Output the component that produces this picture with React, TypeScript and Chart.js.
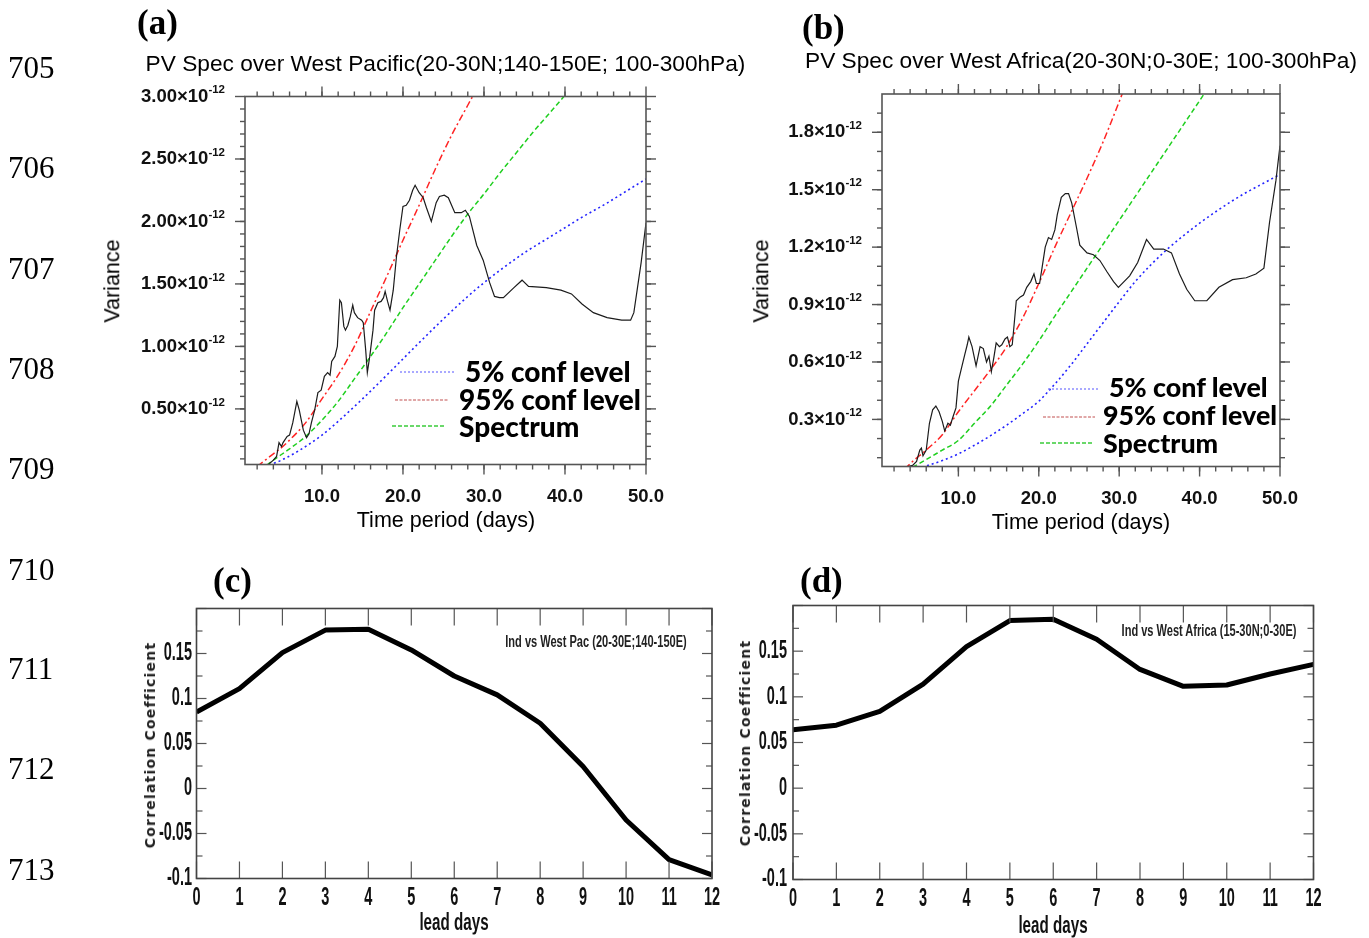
import React, { useEffect, useRef } from "react";
import { Chart, registerables } from "chart.js";

Chart.register(...registerables);

// ---------------- Panel (a): PV spectrum over West Pacific (units of 1e-12) ----------------
const specDaysA = [3.3, 4.0, 4.4, 4.7, 5.0, 5.2, 5.4, 5.7, 6.0, 6.4, 6.9, 7.2, 7.7, 8.1, 8.4, 8.7, 9.1, 9.5, 9.9, 10.3, 10.7, 11.0, 11.2, 11.6, 11.9, 12.2, 12.4, 12.7, 12.9, 13.2, 13.5, 13.8, 14.0, 14.4, 14.9, 15.1, 15.4, 15.6, 15.9, 16.3, 16.5, 16.9, 17.3, 17.6, 17.8, 18.1, 18.4, 18.8, 19.2, 19.6, 20.0, 20.4, 20.8, 21.2, 21.5, 22.0, 22.5, 22.9, 23.5, 24.1, 24.5, 25.1, 25.6, 26.4, 27.2, 27.7, 28.2, 29.1, 29.9, 30.7, 31.3, 31.9, 32.4, 33.7, 34.7, 35.5, 37.7, 39.5, 40.8, 42.1, 43.5, 45.2, 47.0, 48.1, 48.5, 49.4, 50.0];
const specA = [0.05, 0.09, 0.12, 0.23, 0.2, 0.23, 0.25, 0.28, 0.29, 0.39, 0.56, 0.49, 0.33, 0.27, 0.3, 0.39, 0.49, 0.63, 0.65, 0.76, 0.79, 0.77, 0.88, 0.92, 1.0, 1.37, 1.35, 1.16, 1.13, 1.17, 1.24, 1.33, 1.27, 1.23, 1.21, 1.19, 0.97, 0.79, 0.92, 1.13, 1.29, 1.35, 1.36, 1.39, 1.44, 1.36, 1.29, 1.45, 1.72, 1.93, 2.12, 2.13, 2.17, 2.25, 2.29, 2.23, 2.19, 2.11, 2.0, 2.15, 2.2, 2.21, 2.19, 2.07, 2.07, 2.09, 2.04, 1.81, 1.69, 1.51, 1.4, 1.39, 1.39, 1.47, 1.53, 1.48, 1.47, 1.45, 1.42, 1.34, 1.27, 1.23, 1.21, 1.21, 1.27, 1.67, 1.99];
const conf95DaysA = [2.0, 3, 4, 5, 6, 8, 10, 12, 14, 16, 18, 20, 22, 24, 26, 28, 30];
const conf95A = [0.04, 0.09, 0.14, 0.19, 0.25, 0.39, 0.58, 0.77, 1.0, 1.28, 1.56, 1.85, 2.13, 2.42, 2.69, 2.93, 3.17];
const fitDaysA = [3.2, 4, 6, 8, 10, 12, 14, 16, 18, 20, 22, 24, 26, 28, 30, 32, 34, 36, 38, 40, 42];
const fitA = [0.05, 0.09, 0.18, 0.28, 0.41, 0.56, 0.74, 0.92, 1.11, 1.31, 1.5, 1.69, 1.88, 2.06, 2.22, 2.39, 2.55, 2.71, 2.86, 3.01, 3.16];
const conf5DaysA = [3.5, 5, 7, 10, 12, 15, 18, 20, 22, 25, 28, 30, 32, 35, 38, 40, 42, 45, 48, 50];
const conf5A = [0.05, 0.09, 0.16, 0.29, 0.4, 0.58, 0.77, 0.9, 1.03, 1.22, 1.4, 1.51, 1.61, 1.75, 1.87, 1.95, 2.03, 2.14, 2.26, 2.34];

// ---------------- Panel (b): PV spectrum over West Africa (units of 1e-12) ----------------
const specDaysB = [3.3, 4.3, 4.8, 5.2, 5.4, 5.6, 6.0, 6.4, 6.8, 7.2, 7.6, 8.0, 8.3, 8.7, 9.0, 9.3, 9.7, 10.0, 10.4, 10.8, 11.1, 11.3, 11.7, 12.2, 12.7, 13.1, 13.5, 13.8, 14.1, 14.4, 14.7, 15.1, 15.4, 15.8, 16.1, 16.4, 16.7, 16.9, 17.2, 17.7, 18.1, 18.5, 19.0, 19.4, 19.7, 20.1, 20.4, 20.8, 21.2, 21.6, 22.0, 22.3, 22.8, 23.3, 23.7, 24.1, 24.7, 25.1, 26.0, 26.8, 27.6, 28.5, 29.3, 29.9, 31.3, 32.3, 33.4, 34.3, 35.5, 36.5, 37.5, 38.4, 39.4, 40.9, 42.4, 44.1, 45.8, 47.0, 48.0, 48.7, 49.5, 50.0];
const specB = [0.05, 0.06, 0.08, 0.14, 0.15, 0.11, 0.14, 0.28, 0.35, 0.37, 0.34, 0.29, 0.24, 0.28, 0.27, 0.31, 0.36, 0.5, 0.57, 0.64, 0.69, 0.73, 0.68, 0.58, 0.68, 0.67, 0.6, 0.63, 0.55, 0.62, 0.7, 0.68, 0.69, 0.72, 0.73, 0.68, 0.69, 0.78, 0.92, 0.94, 0.95, 0.99, 1.02, 1.06, 1.01, 1.01, 1.09, 1.2, 1.25, 1.24, 1.29, 1.37, 1.46, 1.48, 1.48, 1.43, 1.3, 1.21, 1.17, 1.16, 1.13, 1.07, 1.02, 0.99, 1.05, 1.12, 1.24, 1.19, 1.19, 1.17, 1.06, 0.98, 0.92, 0.92, 0.99, 1.03, 1.04, 1.06, 1.09, 1.33, 1.55, 1.73];
const conf95DaysB = [3.3, 4.3, 6, 8, 10, 12, 14, 16, 18, 20, 22, 24, 26, 28, 30, 31];
const conf95B = [0.04, 0.08, 0.14, 0.22, 0.34, 0.45, 0.56, 0.68, 0.83, 1.01, 1.2, 1.38, 1.56, 1.75, 1.96, 2.07];
const fitDaysB = [4.3, 6, 8, 10, 12, 14, 16, 18, 20, 22, 24, 26, 28, 30, 32, 34, 36, 38, 40, 42];
const fitB = [0.05, 0.09, 0.14, 0.19, 0.28, 0.37, 0.48, 0.59, 0.71, 0.84, 0.965, 1.09, 1.215, 1.34, 1.465, 1.59, 1.715, 1.84, 1.965, 2.09];
const conf5DaysB = [5.5, 8, 10, 12, 14, 16, 18, 20, 22, 24, 26, 28, 30, 32, 34, 36, 38, 40, 42, 44, 46, 48, 50];
const conf5B = [0.05, 0.085, 0.12, 0.165, 0.215, 0.27, 0.33, 0.395, 0.485, 0.585, 0.695, 0.805, 0.915, 1.02, 1.11, 1.19, 1.26, 1.325, 1.385, 1.44, 1.49, 1.535, 1.58];

// ---------------- Panels (c) and (d): lagged correlations ----------------
const leadDays = [0, 1, 2, 3, 4, 5, 6, 7, 8, 9, 10, 11, 12];
const corrWestPac = [0.085, 0.111, 0.151, 0.176, 0.177, 0.154, 0.125, 0.104, 0.0725, 0.0245, -0.035, -0.079, -0.096];
const corrWestAfrica = [0.064, 0.069, 0.084, 0.114, 0.155, 0.1835, 0.185, 0.163, 0.13, 0.1115, 0.113, 0.125, 0.1355];

// ---------------- Tick labels ----------------
const periodTicks = [10, 20, 30, 40, 50];
const varTicksA = [0.5, 1.0, 1.5, 2.0, 2.5, 3.0];
const varTicksB = [0.3, 0.6, 0.9, 1.2, 1.5, 1.8];
const corrTicks = [-0.1, -0.05, 0, 0.05, 0.1, 0.15];
const corrTickLabels = ["-0.1", "-0.05", "0", "0.05", "0.1", "0.15"];
const expSup = "-12";

function range(a: number, b: number, s: number): number[] {
  const out: number[] = [];
  for (let v = a; v <= b + 1e-9; v += s) out.push(+v.toFixed(4));
  return out;
}
const toXY = (xs: number[], ys: number[]) => xs.map((x, i) => ({ x, y: ys[i] }));

const W = 1369;
const H = 938;
const SANS = "'Liberation Sans', Arial, Helvetica, sans-serif";
const SERIF = "'Liberation Serif', 'Times New Roman', serif";

type LegendLine = { x1: number; x2: number; y: number; color: string; dash: number[]; width: number };
type FrameOpts = {
  outward: boolean;
  xMajor: number[]; xMinor: number[]; yMajor: number[]; yMinor: number[];
  xMajorLen: number; xMinorLen: number; yMajorLen: number; yMinorLen: number;
  frameColor: string; frameWidth: number; tickColor: string; tickWidth: number;
  xLabelValues: number[]; xLabels: string[]; xLabelOffset: number;
  yLabelValues: number[]; yLabels: string[]; yLabelGap: number;
  font: string; supFont?: string; ySup?: string; supRaise?: number; scaleX: number;
  labelColor: string;
  legend?: LegendLine[];
};

function drawScaled(ctx: CanvasRenderingContext2D, text: string, x: number, y: number, align: CanvasTextAlign, sx: number) {
  ctx.save();
  ctx.translate(x, y);
  ctx.scale(sx, 1);
  ctx.textAlign = align;
  ctx.textBaseline = "middle";
  ctx.fillText(text, 0, 0);
  ctx.restore();
}

function makeFrame(o: FrameOpts) {
  return {
    id: "frame",
    afterDraw(chart: any) {
      const ctx: CanvasRenderingContext2D = chart.ctx;
      const a = chart.chartArea;
      const xs = chart.scales.x;
      const ys = chart.scales.y;
      const d = o.outward ? 1 : -1;
      const seg = (x1: number, y1: number, x2: number, y2: number) => {
        ctx.beginPath();
        ctx.moveTo(x1, y1);
        ctx.lineTo(x2, y2);
        ctx.stroke();
      };
      ctx.save();
      ctx.setLineDash([]);
      ctx.strokeStyle = o.tickColor;
      ctx.lineWidth = o.tickWidth;
      const xt: [number, number][] = [
        ...o.xMinor.map((v) => [v, o.xMinorLen] as [number, number]),
        ...o.xMajor.map((v) => [v, o.xMajorLen] as [number, number]),
      ];
      for (const [v, len] of xt) {
        const p = xs.getPixelForValue(v);
        seg(p, a.bottom, p, a.bottom + d * len);
        seg(p, a.top, p, a.top - d * len);
      }
      const yt: [number, number][] = [
        ...o.yMinor.map((v) => [v, o.yMinorLen] as [number, number]),
        ...o.yMajor.map((v) => [v, o.yMajorLen] as [number, number]),
      ];
      for (const [v, len] of yt) {
        const p = ys.getPixelForValue(v);
        seg(a.left, p, a.left - d * len, p);
        seg(a.right, p, a.right + d * len, p);
      }
      ctx.strokeStyle = o.frameColor;
      ctx.lineWidth = o.frameWidth;
      ctx.strokeRect(a.left, a.top, a.right - a.left, a.bottom - a.top);

      for (const l of o.legend || []) {
        ctx.strokeStyle = l.color;
        ctx.lineWidth = l.width;
        ctx.setLineDash(l.dash);
        seg(l.x1, l.y, l.x2, l.y);
      }
      ctx.setLineDash([]);

      ctx.fillStyle = o.labelColor;
      ctx.font = o.font;
      o.xLabelValues.forEach((v, i) => {
        drawScaled(ctx, o.xLabels[i], xs.getPixelForValue(v), a.bottom + o.xLabelOffset, "center", o.scaleX);
      });
      o.yLabelValues.forEach((v, i) => {
        const py = ys.getPixelForValue(v);
        const right = a.left - o.yLabelGap;
        if (o.ySup && o.supFont) {
          ctx.font = o.supFont;
          const ws = ctx.measureText(o.ySup).width;
          ctx.font = o.font;
          const wm = ctx.measureText(o.yLabels[i]).width;
          ctx.textAlign = "left";
          ctx.textBaseline = "middle";
          ctx.fillText(o.yLabels[i], right - ws - wm, py);
          ctx.font = o.supFont;
          ctx.fillText(o.ySup, right - ws, py - (o.supRaise || 5));
          ctx.font = o.font;
        } else {
          drawScaled(ctx, o.yLabels[i], right, py, "right", o.scaleX);
        }
      });
      ctx.restore();
    },
  };
}

type Area = { L: number; T: number; R: number; B: number };

function baseOptions(area: Area, xMin: number, xMax: number, yMin: number, yMax: number): any {
  return {
    animation: false,
    responsive: false,
    devicePixelRatio: 1,
    events: [],
    layout: { padding: { left: area.L, top: area.T, right: W - area.R, bottom: H - area.B } },
    scales: {
      x: { type: "linear", display: false, min: xMin, max: xMax },
      y: { type: "linear", display: false, min: yMin, max: yMax },
    },
    plugins: { legend: { display: false }, tooltip: { enabled: false }, title: { display: false } },
  };
}

const RED = "#ff2424";
const GREEN = "#1fcf1f";
const BLUE = "#2323ff";

function spectrumChart(
  canvas: HTMLCanvasElement,
  area: Area,
  yMin: number,
  yMax: number,
  spec: { x: number; y: number }[],
  c95: { x: number; y: number }[],
  fit: { x: number; y: number }[],
  c5: { x: number; y: number }[],
  yTicks: number[],
  yMinor: number[],
  yDigits: number,
  legend: LegendLine[]
) {
  return new Chart(canvas, {
    type: "line",
    data: {
      datasets: [
        { data: spec, borderColor: "#1c1c1c", borderWidth: 1.2, pointRadius: 0, tension: 0 },
        { data: c95, borderColor: RED, borderWidth: 1.5, borderDash: [7, 3, 2, 3], pointRadius: 0, cubicInterpolationMode: "monotone" },
        { data: fit, borderColor: GREEN, borderWidth: 1.5, borderDash: [5, 3], pointRadius: 0, cubicInterpolationMode: "monotone" },
        { data: c5, borderColor: BLUE, borderWidth: 1.6, borderDash: [2, 3], pointRadius: 0, cubicInterpolationMode: "monotone" },
      ],
    } as any,
    options: baseOptions(area, 0.5, 50, yMin, yMax),
    plugins: [
      makeFrame({
        outward: true,
        xMajor: periodTicks,
        xMinor: range(2, 48, 2),
        yMajor: yTicks,
        yMinor: yMinor,
        xMajorLen: 10, xMinorLen: 5, yMajorLen: 10, yMinorLen: 5,
        frameColor: "#555", frameWidth: 1.6, tickColor: "#555", tickWidth: 1.4,
        xLabelValues: periodTicks,
        xLabels: periodTicks.map((v) => v.toFixed(1)),
        xLabelOffset: 32,
        yLabelValues: yTicks,
        yLabels: yTicks.map((v) => v.toFixed(yDigits) + "\u00d710"),
        yLabelGap: 20,
        font: `bold 18.5px ${SANS}`,
        supFont: `bold 11.5px ${SANS}`,
        ySup: expSup,
        supRaise: 6.5,
        scaleX: 1,
        labelColor: "#111",
        legend,
      }),
    ],
  });
}

function corrChart(canvas: HTMLCanvasElement, area: Area, values: number[], xOff: number, yGap: number) {
  return new Chart(canvas, {
    type: "line",
    data: {
      datasets: [
        {
          data: toXY(leadDays, values),
          borderColor: "#000",
          borderWidth: 5,
          pointRadius: 0,
          tension: 0,
          borderJoinStyle: "round",
          borderCapStyle: "butt",
        },
      ],
    } as any,
    options: baseOptions(area, 0, 12, -0.1, 0.2),
    plugins: [
      makeFrame({
        outward: false,
        xMajor: leadDays,
        xMinor: [],
        yMajor: range(-0.1, 0.2, 0.05),
        yMinor: range(-0.075, 0.175, 0.05),
        xMajorLen: 17, xMinorLen: 0, yMajorLen: 10, yMinorLen: 6,
        frameColor: "#444", frameWidth: 1.6, tickColor: "#555", tickWidth: 1.2,
        xLabelValues: leadDays,
        xLabels: leadDays.map((v) => String(v)),
        xLabelOffset: xOff,
        yLabelValues: corrTicks,
        yLabels: corrTickLabels,
        yLabelGap: yGap,
        font: `bold 25px ${SANS}`,
        scaleX: 0.58,
        labelColor: "#111",
      }),
    ],
  });
}

const AREA_A: Area = { L: 245, T: 96.5, R: 646, B: 464.5 };
const AREA_B: Area = { L: 882, T: 94, R: 1280, B: 466.5 };
const AREA_C: Area = { L: 196.5, T: 608.5, R: 712, B: 878.5 };
const AREA_D: Area = { L: 793, T: 605.5, R: 1313.5, B: 879.5 };

const legendA: LegendLine[] = [
  { x1: 400, x2: 455, y: 372, color: "#7b7bff", dash: [2, 2], width: 1.3 },
  { x1: 395, x2: 448, y: 400, color: "#c25050", dash: [3, 1.5], width: 1.1 },
  { x1: 392, x2: 445, y: 426, color: "#3acc3a", dash: [4, 2], width: 1.3 },
];
const legendB: LegendLine[] = [
  { x1: 1048, x2: 1100, y: 389, color: "#7b7bff", dash: [2, 2], width: 1.3 },
  { x1: 1043, x2: 1095, y: 417, color: "#c25050", dash: [3, 1.5], width: 1.1 },
  { x1: 1040, x2: 1093, y: 443, color: "#3acc3a", dash: [4, 2], width: 1.3 },
];

function ChartLayer({ build }: { build: (c: HTMLCanvasElement) => Chart }) {
  const ref = useRef<HTMLCanvasElement>(null);
  useEffect(() => {
    const ch = build(ref.current as HTMLCanvasElement);
    return () => ch.destroy();
  }, []);
  return (
    <canvas
      ref={ref}
      width={W}
      height={H}
      style={{ position: "absolute", left: 0, top: 0, width: W, height: H, pointerEvents: "none" }}
    />
  );
}

type TProps = {
  x: number;
  y: number;
  children: React.ReactNode;
  style?: React.CSSProperties;
  anchor?: "left" | "center";
  rotate?: number;
  sx?: number;
};
function T({ x, y, children, style, anchor = "center", rotate = 0, sx = 1 }: TProps) {
  const tx = anchor === "left" ? "0" : "-50%";
  return (
    <div
      style={{
        position: "absolute",
        left: x,
        top: y,
        whiteSpace: "nowrap",
        lineHeight: 1,
        color: "#111",
        transform: `translate(${tx}, -50%) rotate(${rotate}deg) scaleX(${sx})`,
        transformOrigin: anchor === "left" ? "0 50%" : "50% 50%",
        ...style,
      }}
    >
      {children}
    </div>
  );
}

const lineNumbers = ["705", "706", "707", "708", "709", "710", "711", "712", "713"];
const lineNumberY = [67, 167, 268, 368, 468, 569, 668, 768, 869];

export default function App() {
  const serifNum: React.CSSProperties = { fontFamily: SERIF, fontSize: 31, color: "#000" };
  const letter: React.CSSProperties = { fontFamily: SERIF, fontSize: 35, fontWeight: "bold", color: "#000" };
  const title: React.CSSProperties = { fontFamily: SANS, fontSize: 22.7, color: "#000" };
  const axisT: React.CSSProperties = { fontFamily: SANS, fontSize: 21.5, color: "#000" };
  const legendTA: React.CSSProperties = { fontFamily: "Lato, 'Open Sans', sans-serif", fontSize: 28, fontWeight: 900, color: "#000" };
  const legendTB: React.CSSProperties = { ...legendTA, fontSize: 26.8 };
  const corrT: React.CSSProperties = { fontFamily: "'DejaVu Sans', sans-serif", fontSize: 14, fontWeight: "bold", color: "#222", letterSpacing: 1.2 };
  const leadT: React.CSSProperties = { fontFamily: SANS, fontSize: 23, fontWeight: "bold", color: "#111" };
  const noteT: React.CSSProperties = { fontFamily: SANS, fontSize: 16, fontWeight: "bold", color: "#222" };

  return (
    <div style={{ position: "absolute", left: 0, top: 0, width: W, height: H, background: "#fff", overflow: "hidden" }}>
      <ChartLayer
        build={(c) =>
          spectrumChart(c, AREA_A, 0.055, 3.0, toXY(specDaysA, specA), toXY(conf95DaysA, conf95A), toXY(fitDaysA, fitA), toXY(conf5DaysA, conf5A), varTicksA, range(0.1, 2.9, 0.1), 2, legendA)
        }
      />
      <ChartLayer
        build={(c) =>
          spectrumChart(c, AREA_B, 0.054, 2.0, toXY(specDaysB, specB), toXY(conf95DaysB, conf95B), toXY(fitDaysB, fitB), toXY(conf5DaysB, conf5B), varTicksB, range(0.1, 1.9, 0.1), 1, legendB)
        }
      />
      <ChartLayer build={(c) => corrChart(c, AREA_C, corrWestPac, 19.5, 4.5)} />
      <ChartLayer build={(c) => corrChart(c, AREA_D, corrWestAfrica, 20, 6)} />

      {lineNumbers.map((n, i) => (
        <T key={n} x={8} y={lineNumberY[i]} anchor="left" style={serifNum}>
          {n}
        </T>
      ))}

      <T x={137} y={22} anchor="left" style={letter}>(a)</T>
      <T x={802} y={27} anchor="left" style={letter}>(b)</T>
      <T x={213} y={580} anchor="left" style={letter}>(c)</T>
      <T x={800} y={580} anchor="left" style={letter}>(d)</T>

      <T x={445.5} y={63} style={title}>PV Spec over West Pacific(20-30N;140-150E; 100-300hPa)</T>
      <T x={1081} y={60} style={title}>PV Spec over West Africa(20-30N;0-30E; 100-300hPa)</T>

      <T x={113} y={281} rotate={-90} style={axisT}>Variance</T>
      <T x={762} y={281} rotate={-90} style={axisT}>Variance</T>
      <T x={446} y={521} style={axisT}>Time period (days)</T>
      <T x={1081} y={523} style={axisT}>Time period (days)</T>

      <T x={465} y={371} anchor="left" style={legendTA}>5% conf level</T>
      <T x={459} y={399} anchor="left" style={legendTA}>95% conf level</T>
      <T x={459} y={426} anchor="left" style={legendTA}>Spectrum</T>
      <T x={1109} y={387} anchor="left" style={legendTB}>5% conf level</T>
      <T x={1103} y={415} anchor="left" style={legendTB}>95% conf level</T>
      <T x={1103} y={443} anchor="left" style={legendTB}>Spectrum</T>

      <T x={150} y={745} rotate={-90} style={corrT}>Correlation Coefficient</T>
      <T x={745} y={743} rotate={-90} style={corrT}>Correlation Coefficient</T>
      <T x={454} y={922} sx={0.66} style={leadT}>lead days</T>
      <T x={1053} y={925} sx={0.66} style={leadT}>lead days</T>
      <T x={596} y={642} sx={0.69} style={noteT}>Ind vs West Pac (20-30E;140-150E)</T>
      <T x={1209} y={631} sx={0.69} style={noteT}>Ind vs West Africa (15-30N;0-30E)</T>
    </div>
  );
}
